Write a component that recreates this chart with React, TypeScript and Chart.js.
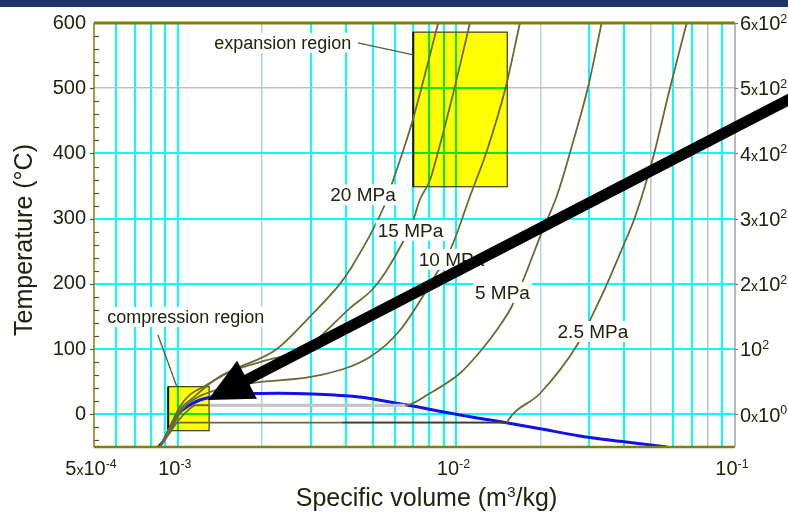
import React, { useEffect, useRef } from 'react';
import { Chart, registerables } from 'chart.js';

Chart.register(...registerables);

const FONT = '"Liberation Sans", Arial, Helvetica, sans-serif';
const TEXT_COLOR = '#22220f';

// ---- axes ----
const X_MIN = 5e-4;
const X_MAX = 1e-1;
const Y_MIN = -50;
const Y_MAX = 600;

const X_GRID = [6e-4, 7e-4, 8e-4, 9e-4, 1e-3, 2e-3, 3e-3, 4e-3, 5e-3, 6e-3, 7e-3, 8e-3, 9e-3, 1e-2, 2e-2, 3e-2, 4e-2, 5e-2, 6e-2, 7e-2, 8e-2, 9e-2];
const X_GRID_COLORS = ['#00ffff', '#00ffff', '#00ffff', '#00ffff', '#00ffff', '#a8d8e0', '#00ffff', '#00ffff', '#00ffff', '#00ffff', '#00ffff', '#00ffff', '#00ffff', '#00ffff', '#a8dde4', '#00ffff', '#00ffff', '#c0c0c0', '#00ffff', '#00ffff', '#c0c0c0', '#00ffff'];
const Y_GRID = [0, 100, 200, 300, 400, 500, 600];
const Y_GRID_COLORS = ['#00ffff', '#00ffff', '#00ffff', '#00ffff', '#00ffff', '#c0c0c0', '#808000'];
const Y_TICK_LABELS = ['0', '100', '200', '300', '400', '500', '600'];
const X_TICK_VALUES = [5e-4, 1e-3, 1e-2, 1e-1];
const X_TICK_LABELS = ['5~x~10^{-4}', '10^{-3}', '10^{-2}', '10^{-1}'];
const RIGHT_TICK_VALUES = [600, 500, 400, 300, 200, 100, 0];
const RIGHT_TICK_LABELS = ['6~x~10^{2}', '5~x~10^{2}', '4~x~10^{2}', '3~x~10^{2}', '2~x~10^{2}', '10^{2}', '0~x~10^{0}'];
const X_TITLE = 'Specific volume (m^{3}/kg)';
const Y_TITLE = 'Temperature (°C)';

// ---- isobars (specific volume m3/kg, temperature °C) ----
const V_20MPA = [8.62e-4, 9.36e-4, 1.017e-3, 1.104e-3, 1.233e-3, 1.54e-3, 2.26e-3, 2.98e-3, 3.82e-3, 4.15e-3, 5.46e-3, 5.85e-3, 6.63e-3, 7.0e-3, 8.6e-3];
const T_20MPA = [-50, -19, 12, 30, 42, 66, 100, 150, 200, 222, 316, 352, 421, 454, 600];

const V_15MPA = [8.62e-4, 9.4e-4, 1.03e-3, 1.13e-3, 1.415e-3, 2.0e-3, 2.88e-3, 4.15e-3, 5.03e-3, 5.62e-3, 6.44e-3, 7.0e-3, 7.39e-3, 8.03e-3, 8.6e-3, 9.88e-3, 1.118e-2];
const T_15MPA = [-50, -20, 10, 25, 58, 81, 102, 163, 193, 221, 265, 298, 329, 359, 403, 503, 600];

const V_10MPA = [8.62e-4, 9.5e-4, 1.05e-3, 1.2e-3, 1.45e-3, 1.84e-3, 3.23e-3, 4.89e-3, 6.27e-3, 8.51e-3, 9.61e-3, 1.118e-2, 1.284e-2, 1.506e-2, 1.69e-2];
const T_10MPA = [-50, -20, 10, 28, 40, 48, 60, 88, 129, 217, 257, 334, 403, 503, 600];

const V_5MPA = [8.62e-4, 9.6e-4, 1.08e-3, 1.16e-3, 6.55e-3, 8.0e-3, 1.03e-2, 1.215e-2, 1.394e-2, 1.578e-2, 1.737e-2, 2.02e-2, 2.29e-2, 2.42e-2, 2.556e-2, 2.973e-2, 3.32e-2];
const T_5MPA = [-50, -20, 5, 14, 14, 32, 63, 96, 129, 165, 206, 278, 334, 366, 401, 503, 600];

const V_2P5MPA = [8.62e-4, 9.3e-4, 1.0e-3, 1.52e-2, 1.535e-2, 1.995e-2, 2.737e-2, 3.06e-2, 3.46e-2, 4.03e-2, 4.38e-2, 5.09e-2, 5.84e-2, 6.71e-2];
const T_2P5MPA = [-50, -30, -12.5, -12.5, -8.6, 32, 109, 150, 198.5, 265, 303, 395, 500, 600];

// two-phase (flat) parts drawn in their own shade
const V_FLAT_5MPA = [1.3e-3, 6.55e-3];
const T_FLAT_5MPA = [14, 14];
const V_FLAT_2P5MPA = [3.9e-3, 1.52e-2];
const T_FLAT_2P5MPA = [-12.5, -12.5];

// saturation dome
const V_SAT = [8.5e-4, 8.9e-4, 9.4e-4, 1.0e-3, 1.08e-3, 1.2e-3, 1.4e-3, 1.9e-3, 2.3e-3, 3.05e-3, 4.4e-3, 6.5e-3, 1.03e-2, 1.51e-2, 2.0e-2, 2.77e-2, 4.0e-2, 5.7e-2];
const T_SAT = [-50, -40, -20, 0, 12, 22, 28, 32, 32.5, 31.3, 27, 15, -1, -12.7, -22, -33, -42, -50];

// ---- regions & annotations ----
const EXPANSION_V = [7.0e-3, 1.522e-2];
const EXPANSION_T = [349, 586];
const COMPRESSION_V = [9.23e-4, 1.295e-3];
const COMPRESSION_T = [-25, 42.5];

const ISOBAR_LABELS = ['20 MPa', '15 MPa', '10 MPa', '5 MPa', '2.5 MPa'];
const ISOBAR_LABEL_V = [4.62e-3, 6.84e-3, 9.6e-3, 1.463e-2, 3.09e-2];
const ISOBAR_LABEL_T = [336.5, 282, 237.6, 187, 127.1];

const REGION_LABELS = ['expansion region', 'compression region'];
const REGION_LABEL_V = [2.38e-3, 1.068e-3];
const REGION_LABEL_T = [569.6, 149.4];
const LEADER_V = [[4.43e-3, 7.0e-3], [8.48e-4, 9.92e-4]];
const LEADER_T = [[569.6, 551.2], [121.8, 42.5]];

const ARROW_V = [0.165, 1.282e-3]; // tail, tip
const ARROW_T = [488, 22.1];

const zip = (v: number[], t: number[]) => v.map((x, i) => ({ x, y: t[i] }));

type Run = { t: string; scale: number; rise: number };
function parseRich(s: string): Run[] {
  const runs: Run[] = [];
  const re = /\^\{([^}]*)\}|~([^~]*)~/g;
  let last = 0;
  let m: RegExpExecArray | null;
  while ((m = re.exec(s))) {
    if (m.index > last) runs.push({ t: s.slice(last, m.index), scale: 1, rise: 0 });
    if (m[1] !== undefined) runs.push({ t: m[1], scale: 0.62, rise: 0.38 });
    else runs.push({ t: m[2], scale: 0.7, rise: 0 });
    last = re.lastIndex;
  }
  if (last < s.length) runs.push({ t: s.slice(last), scale: 1, rise: 0 });
  return runs;
}

function drawRich(ctx: CanvasRenderingContext2D, s: string, x: number, y: number, size: number, align: 'left' | 'center' | 'right') {
  const runs = parseRich(s);
  const widths = runs.map((r) => {
    ctx.font = `${size * r.scale}px ${FONT}`;
    return ctx.measureText(r.t).width;
  });
  const total = widths.reduce((a, b) => a + b, 0);
  let cx = align === 'left' ? x : align === 'center' ? x - total / 2 : x - total;
  const baseline = y + size * 0.36;
  ctx.textAlign = 'left';
  ctx.textBaseline = 'alphabetic';
  ctx.fillStyle = TEXT_COLOR;
  runs.forEach((r, i) => {
    ctx.font = `${size * r.scale}px ${FONT}`;
    ctx.fillText(r.t, cx, baseline - r.rise * size);
    cx += widths[i];
  });
}

function labelWithBg(ctx: CanvasRenderingContext2D, text: string, x: number, y: number, size: number) {
  ctx.font = `${size}px ${FONT}`;
  const w = ctx.measureText(text).width;
  ctx.fillStyle = '#ffffff';
  ctx.fillRect(x - w / 2 - 2, y - size * 0.55, w + 4, size * 1.1);
  ctx.fillStyle = TEXT_COLOR;
  ctx.textAlign = 'center';
  ctx.textBaseline = 'middle';
  ctx.fillText(text, x, y + 1);
}

const decorPlugin = {
  id: 'decor',
  beforeDatasetsDraw(chart: any) {
    const { ctx } = chart;
    const xs = chart.scales.x;
    const ys = chart.scales.y;
    const boxes = [
      [EXPANSION_V, EXPANSION_T],
      [COMPRESSION_V, COMPRESSION_T],
    ];
    boxes.forEach(([v, t]) => {
      const x0 = xs.getPixelForValue(v[0]);
      const x1 = xs.getPixelForValue(v[1]);
      const y0 = ys.getPixelForValue(t[1]);
      const y1 = ys.getPixelForValue(t[0]);
      ctx.save();
      ctx.fillStyle = '#ffff00';
      ctx.fillRect(x0, y0, x1 - x0, y1 - y0);
      // grid lines seen through the translucent yellow
      ctx.beginPath();
      ctx.rect(x0, y0, x1 - x0, y1 - y0);
      ctx.clip();
      X_GRID.forEach((gv, i) => {
        const px = Math.round(xs.getPixelForValue(gv));
        const cyan = X_GRID_COLORS[i] === '#00ffff';
        ctx.strokeStyle = cyan ? '#00e600' : '#c8c800';
        ctx.lineWidth = cyan ? 2 : 1.5;
        ctx.beginPath();
        ctx.moveTo(px, y0);
        ctx.lineTo(px, y1);
        ctx.stroke();
      });
      Y_GRID.forEach((gv) => {
        const py = Math.round(ys.getPixelForValue(gv));
        ctx.strokeStyle = '#00e600';
        ctx.lineWidth = 2;
        ctx.beginPath();
        ctx.moveTo(x0, py);
        ctx.lineTo(x1, py);
        ctx.stroke();
      });
      ctx.restore();
      ctx.save();
      ctx.strokeStyle = '#3a3a22';
      ctx.lineWidth = 1.2;
      ctx.strokeRect(x0, y0, x1 - x0, y1 - y0);
      ctx.lineWidth = 2;
      ctx.strokeStyle = '#111';
      ctx.beginPath();
      ctx.moveTo(x0, y0);
      ctx.lineTo(x0, y1);
      ctx.stroke();
      ctx.restore();
    });
  },
  afterDatasetsDraw(chart: any) {
    const { ctx, chartArea: ca } = chart;
    const xs = chart.scales.x;
    const ys = chart.scales.y;
    ctx.save();
    // frame
    ctx.strokeStyle = '#808000';
    ctx.lineWidth = 3;
    ctx.beginPath();
    ctx.moveTo(ca.left, ca.top);
    ctx.lineTo(ca.right, ca.top);
    ctx.stroke();
    ctx.lineWidth = 2.5;
    ctx.beginPath();
    ctx.moveTo(ca.left, ca.bottom);
    ctx.lineTo(ca.right, ca.bottom);
    ctx.stroke();
    ctx.lineWidth = 1.5;
    ctx.beginPath();
    ctx.moveTo(ca.left, ca.top);
    ctx.lineTo(ca.left, ca.bottom);
    ctx.stroke();
    ctx.strokeStyle = '#a0a0a0';
    ctx.beginPath();
    ctx.moveTo(ca.right, ca.top);
    ctx.lineTo(ca.right, ca.bottom);
    ctx.stroke();
    // left ticks
    ctx.strokeStyle = '#55553a';
    ctx.lineWidth = 1.2;
    for (let t = -40; t < Y_MAX; t += 20) {
      const py = Math.round(ys.getPixelForValue(t)) + 0.5;
      ctx.beginPath();
      if (t % 100 === 0) {
        ctx.moveTo(ca.left - 4, py);
        ctx.lineTo(ca.left, py);
      } else {
        ctx.moveTo(ca.left, py);
        ctx.lineTo(ca.left + 5, py);
      }
      ctx.stroke();
    }
    // right ticks
    ctx.strokeStyle = '#777';
    RIGHT_TICK_VALUES.forEach((t) => {
      const py = Math.round(ys.getPixelForValue(t)) + 0.5;
      ctx.beginPath();
      ctx.moveTo(ca.right, py);
      ctx.lineTo(ca.right + 3, py);
      ctx.stroke();
    });
    // leader lines
    ctx.strokeStyle = '#5a5a35';
    ctx.lineWidth = 1.3;
    LEADER_V.forEach((v, i) => {
      ctx.beginPath();
      ctx.moveTo(xs.getPixelForValue(v[0]), ys.getPixelForValue(LEADER_T[i][0]));
      ctx.lineTo(xs.getPixelForValue(v[1]), ys.getPixelForValue(LEADER_T[i][1]));
      ctx.stroke();
    });
    // region labels
    REGION_LABELS.forEach((txt, i) => {
      labelWithBg(ctx, txt, xs.getPixelForValue(REGION_LABEL_V[i]), ys.getPixelForValue(REGION_LABEL_T[i]), 18);
    });
    // isobar labels
    ISOBAR_LABELS.forEach((txt, i) => {
      labelWithBg(ctx, txt, xs.getPixelForValue(ISOBAR_LABEL_V[i]), ys.getPixelForValue(ISOBAR_LABEL_T[i]), 19);
    });
    ctx.restore();
  },
  afterDraw(chart: any) {
    const { ctx, chartArea: ca } = chart;
    const xs = chart.scales.x;
    const ys = chart.scales.y;
    ctx.save();
    // arrow
    const tx = xs.getPixelForValue(ARROW_V[1]);
    const ty = ys.getPixelForValue(ARROW_T[1]);
    const sx = xs.getPixelForValue(ARROW_V[0]);
    const sy = ys.getPixelForValue(ARROW_T[0]);
    const dx = tx - sx;
    const dy = ty - sy;
    const len = Math.hypot(dx, dy);
    const ux = dx / len;
    const uy = dy / len;
    const headLen = 44;
    const hw = 21.5;
    const bx = tx - ux * headLen;
    const by = ty - uy * headLen;
    ctx.strokeStyle = '#000';
    ctx.fillStyle = '#000';
    ctx.lineWidth = 11;
    ctx.lineCap = 'butt';
    ctx.beginPath();
    ctx.moveTo(sx, sy);
    ctx.lineTo(bx + ux * 3, by + uy * 3);
    ctx.stroke();
    ctx.beginPath();
    ctx.moveTo(tx, ty);
    ctx.lineTo(bx - uy * hw, by + ux * hw);
    ctx.lineTo(bx + uy * hw, by - ux * hw);
    ctx.closePath();
    ctx.fill();
    // navy band
    ctx.fillStyle = '#1b3469';
    ctx.fillRect(0, 0, chart.width, 7);
    // x tick labels
    X_TICK_VALUES.forEach((v, i) => {
      drawRich(ctx, X_TICK_LABELS[i], xs.getPixelForValue(v) - 3, ca.bottom + 21, 20, 'center');
    });
    // right tick labels
    RIGHT_TICK_VALUES.forEach((t, i) => {
      drawRich(ctx, RIGHT_TICK_LABELS[i], ca.right + 5, ys.getPixelForValue(t), 20, 'left');
    });
    // x title
    drawRich(ctx, X_TITLE, (ca.left + ca.right) / 2 + 12, 497, 25, 'center');
    // y title
    ctx.translate(25, 240);
    ctx.rotate(-Math.PI / 2);
    ctx.font = `25px ${FONT}`;
    ctx.fillStyle = TEXT_COLOR;
    ctx.textAlign = 'center';
    ctx.textBaseline = 'middle';
    ctx.fillText(Y_TITLE, 0, 0);
    ctx.restore();
  },
};

const ISO_COLOR = '#6a6a34';

export default function App() {
  const ref = useRef<HTMLCanvasElement | null>(null);
  useEffect(() => {
    if (!ref.current) return;
    const iso = (label: string, v: number[], t: number[]) => ({
      label,
      data: zip(v, t),
      borderColor: ISO_COLOR,
      borderWidth: 1.8,
      pointRadius: 0,
      cubicInterpolationMode: 'monotone' as const,
      order: 1,
    });
    const chart = new Chart(ref.current, {
      type: 'line',
      data: {
        datasets: [
          {
            label: '5 MPa two-phase',
            data: zip(V_FLAT_5MPA, T_FLAT_5MPA),
            borderColor: '#c4c4c4',
            borderWidth: 3,
            pointRadius: 0,
            order: 0,
          },
          {
            label: '2.5 MPa two-phase',
            data: zip(V_FLAT_2P5MPA, T_FLAT_2P5MPA),
            borderColor: '#3a3a3a',
            borderWidth: 1.6,
            pointRadius: 0,
            order: 0,
          },
          iso('20 MPa', V_20MPA, T_20MPA),
          iso('15 MPa', V_15MPA, T_15MPA),
          iso('10 MPa', V_10MPA, T_10MPA),
          iso('5 MPa', V_5MPA, T_5MPA),
          iso('2.5 MPa', V_2P5MPA, T_2P5MPA),
          {
            label: 'saturation',
            data: zip(V_SAT, T_SAT),
            borderColor: '#1212e6',
            borderWidth: 3,
            pointRadius: 0,
            cubicInterpolationMode: 'monotone' as const,
            order: 2,
          },
        ],
      },
      options: {
        animation: false,
        responsive: false,
        maintainAspectRatio: false,
        devicePixelRatio: 1,
        events: [],
        layout: { padding: { top: 23, left: 0, right: 0, bottom: 0 } },
        plugins: { legend: { display: false }, tooltip: { enabled: false } },
        scales: {
          x: {
            type: 'logarithmic',
            position: 'bottom',
            min: X_MIN,
            max: X_MAX,
            afterBuildTicks: (s: any) => {
              s.ticks = X_GRID.map((value) => ({ value }));
            },
            afterFit: (s: any) => {
              s.height = 66;
            },
            ticks: { display: false },
            border: { display: false },
            grid: {
              drawTicks: false,
              color: (c: any) => X_GRID_COLORS[c.index] || '#00ffff',
              lineWidth: (c: any) => (X_GRID_COLORS[c.index] === '#00ffff' ? 2 : 1.5),
            },
          },
          y: {
            type: 'linear',
            position: 'left',
            min: Y_MIN,
            max: Y_MAX,
            afterBuildTicks: (s: any) => {
              s.ticks = Y_GRID.map((value) => ({ value }));
            },
            afterFit: (s: any) => {
              s.width = 94;
            },
            ticks: {
              autoSkip: false,
              padding: 8,
              color: TEXT_COLOR,
              font: { family: FONT, size: 20 },
              callback: (_v: any, i: number) => Y_TICK_LABELS[i],
            },
            border: { display: false },
            grid: {
              drawTicks: false,
              color: (c: any) => Y_GRID_COLORS[c.index] || '#00ffff',
              lineWidth: (c: any) => (Y_GRID_COLORS[c.index] === '#00ffff' ? 2 : 1.5),
            },
          },
          y2: {
            type: 'linear',
            position: 'right',
            min: Y_MIN,
            max: Y_MAX,
            afterFit: (s: any) => {
              s.width = 53;
            },
            ticks: { display: false },
            border: { display: false },
            grid: { display: false },
          },
        },
      },
      plugins: [decorPlugin],
    } as any);
    return () => chart.destroy();
  }, []);
  return (
    <div style={{ position: 'fixed', left: 0, top: 0, width: 788, height: 513, background: '#ffffff' }}>
      <canvas ref={ref} width={788} height={513} style={{ width: 788, height: 513, display: 'block' }} />
    </div>
  );
}
